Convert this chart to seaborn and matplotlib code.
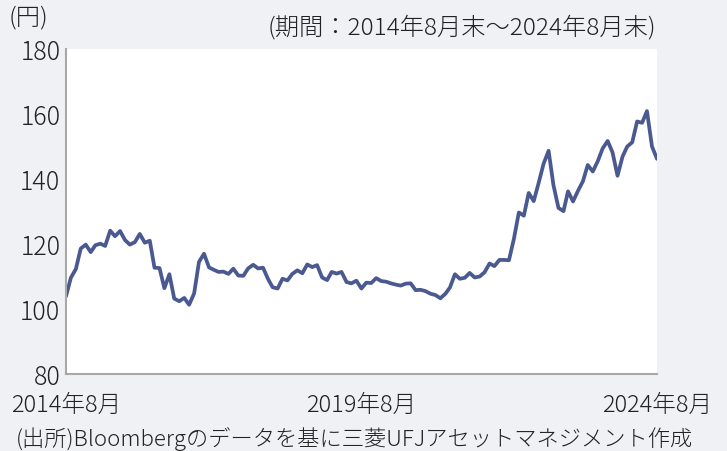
import pandas as pd
import seaborn as sns
import matplotlib.pyplot as plt

# USD/JPY month-end values, Aug 2014 - Aug 2024
values = [
    103.9, 109.6, 112.3, 118.6, 119.8,
    117.5, 119.6, 120.1, 119.4, 124.1, 122.4, 124.0, 121.2, 119.8, 120.6, 123.1, 120.4,
    121.0, 112.7, 112.6, 106.4, 110.7, 103.2, 102.4, 103.4, 101.3, 104.8, 114.5, 117.0,
    112.8, 112.1, 111.4, 111.5, 110.8, 112.4, 110.3, 110.2, 112.5, 113.6, 112.5, 112.7,
    109.2, 106.7, 106.3, 109.3, 108.8, 110.8, 111.9, 111.0, 113.7, 112.9, 113.5, 109.7,
    108.9, 111.4, 110.9, 111.4, 108.3, 107.9, 108.7, 106.3, 108.1, 108.0, 109.5, 108.6,
    108.4, 107.9, 107.5, 107.2, 107.8, 107.9, 105.8, 105.9, 105.5, 104.7, 104.3, 103.3,
    104.7, 106.6, 110.7, 109.3, 109.6, 111.1, 109.7, 110.0, 111.3, 114.0, 113.2, 115.1,
    115.1, 115.0, 121.7, 129.7, 128.7, 135.7, 133.2, 138.9, 144.7, 148.7, 138.1, 131.1,
    130.1, 136.2, 133.1, 136.3, 139.3, 144.3, 142.3, 145.5, 149.4, 151.7, 148.2, 141.0,
    146.9, 150.0, 151.3, 157.7, 157.3, 160.9, 150.0, 146.2,
]
dates = pd.date_range('2014-08-31', periods=len(values), freq='ME')
tick_dates = pd.to_datetime(['2014-08-31', '2019-08-31', '2024-08-31'])
tick_labels = ['2014年8月', '2019年8月', '2024年8月']
y_ticks = [80, 100, 120, 140, 160, 180]

df = pd.DataFrame({'date': dates, 'rate': values})

sns.set_theme(style='white')
plt.rcParams['font.family'] = ['Noto Sans CJK JP', 'DejaVu Sans']
plt.rcParams['font.weight'] = 'light'

bg = '#f0f1f4'
txt = '#222222'
fig = plt.figure(figsize=(7.27, 4.52), dpi=100, facecolor=bg)
ax = fig.add_axes([66 / 727, 77 / 452, 591 / 727, 325 / 452])
ax.set_facecolor('white')

sns.lineplot(data=df, x='date', y='rate', ax=ax, color='#4a5a90', linewidth=2.7)

ax.set_xlim(dates[0], dates[-1])
ax.set_ylim(80, 180)
ax.set_yticks(y_ticks)
ax.set_xticks(tick_dates)
ax.set_xticklabels(tick_labels)
ax.set_xlabel('')
ax.set_ylabel('')

for side in ['top', 'right']:
    ax.spines[side].set_visible(False)
for side in ['left', 'bottom']:
    ax.spines[side].set_color('#a8a8a8')
    ax.spines[side].set_linewidth(1.5)

ax.tick_params(axis='both', direction='in', length=5, width=1.5, color='#a8a8a8',
               labelsize=17, labelcolor=txt)
ax.tick_params(axis='y', labelsize=18, pad=4)
ax.tick_params(axis='x', pad=13)

fig.text(9 / 727, 1 - 18 / 452, '(円)', fontsize=17.5, color=txt, va='center')
fig.text(656 / 727, 1 - 28 / 452, '(期間：2014年8月末～2024年8月末)', fontsize=17.5,
         color=txt, ha='right', va='center')
fig.text(16 / 727, 1 - 439 / 452, '(出所)Bloombergのデータを基に三菱UFJアセットマネジメント作成',
         fontsize=16, color=txt, va='center')

fig.savefig('out.png', dpi=100, facecolor=bg)
